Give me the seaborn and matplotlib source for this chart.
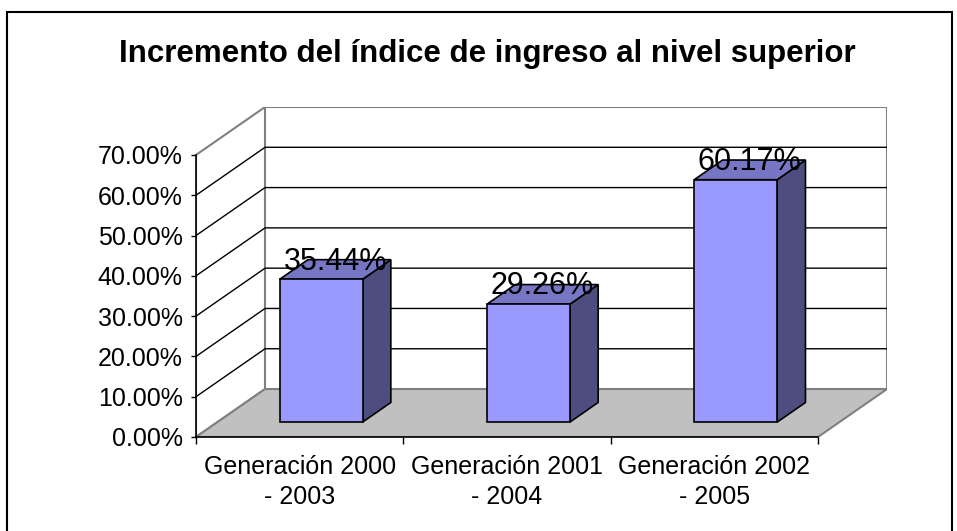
import numpy as np
import pandas as pd
import seaborn as sns
import matplotlib.pyplot as plt
from matplotlib.patches import Polygon, Rectangle
from matplotlib.transforms import Affine2D

# chart data
categories = ['Generación 2000\n- 2003', 'Generación 2001\n- 2004', 'Generación 2002\n- 2005']
values = [35.44, 29.26, 60.17]
bar_labels = ['35.44%', '29.26%', '60.17%']
y_ticks = [0, 10, 20, 30, 40, 50, 60, 70]
title = 'Incremento del índice de ingreso al nivel superior'

sns.set_style('white')
plt.rcParams['font.family'] = ['Liberation Sans', 'DejaVu Sans']
plt.rcParams['text.color'] = 'black'
plt.rcParams['xtick.color'] = 'black'
plt.rcParams['ytick.color'] = 'black'

W, H = 957, 531
fig = plt.figure(figsize=(W / 100, H / 100), dpi=100)
ax = fig.add_axes([196 / W, (H - 437) / H, (887 - 196) / W, (437 - 107) / H])

# depth of the fake 3d box, in data units
dep_x, dep_y = 0.333, 11.9
ymax = y_ticks[-1]

# front faces of the bars from seaborn
df = pd.DataFrame({'gen': categories, 'val': values})
sns.barplot(data=df, x='gen', y='val', width=0.4, color='#9999FF', saturation=1,
            edgecolor='black', linewidth=1.2, ax=ax, zorder=5)
bars = list(ax.patches)

# bars sit in the middle of the floor depth
shift = Affine2D().translate(0.31 * dep_x, 0.31 * dep_y) + ax.transData
bdx, bdy = 0.41 * dep_x, 0.41 * dep_y

# walls and floor
edge = '#808080'
ax.add_patch(Polygon([(-0.5, 0), (-0.5 + dep_x, dep_y), (-0.5 + dep_x, ymax + dep_y), (-0.5, ymax)],
                     closed=True, fc='white', ec=edge, lw=1.5, zorder=1))
ax.add_patch(Rectangle((-0.5 + dep_x, dep_y), 3, ymax, fc='white', ec=edge, lw=1.5, zorder=1))
ax.add_patch(Polygon([(-0.5, 0), (2.5, 0), (2.5 + dep_x, dep_y), (-0.5 + dep_x, dep_y)],
                     closed=True, fc='#C0C0C0', ec=edge, lw=1.5, zorder=1.5))
for v in y_ticks[1:-1]:
    ax.plot([-0.5, -0.5 + dep_x, 2.5 + dep_x], [v, v + dep_y, v + dep_y],
            color='black', lw=1, zorder=2)

# side / top faces and labels
for bar, lab in zip(bars, bar_labels):
    bar.set_transform(shift)
    x0, w, h = bar.get_x(), bar.get_width(), bar.get_height()
    side = [(x0 + w, 0), (x0 + w + bdx, bdy), (x0 + w + bdx, h + bdy), (x0 + w, h)]
    top = [(x0, h), (x0 + w, h), (x0 + w + bdx, h + bdy), (x0 + bdx, h + bdy)]
    ax.add_patch(Polygon(side, closed=True, fc='#4D4D80', ec='black', lw=1.2, transform=shift, zorder=4))
    ax.add_patch(Polygon(top, closed=True, fc='#7676C4', ec='black', lw=1.2, transform=shift, zorder=4))
    ax.text(x0 + w / 2 + bdx / 2, h + bdy / 2, lab, transform=shift, ha='center', va='baseline',
            fontsize=22, color='black', zorder=6)

ax.set_xlim(-0.5, 2.5 + dep_x)
ax.set_ylim(0, ymax + dep_y)
ax.set_xlabel('')
ax.set_ylabel('')

for s in ['top', 'right']:
    ax.spines[s].set_visible(False)
ax.spines['left'].set_bounds(0, ymax)
ax.spines['bottom'].set_bounds(-0.5, 2.5)
for s in ['left', 'bottom']:
    ax.spines[s].set_color('black')
    ax.spines[s].set_linewidth(1.2)

ax.set_yticks(y_ticks)
ax.set_yticklabels(['{0:.2f}%'.format(t) for t in y_ticks])
ax.tick_params(axis='y', left=True, direction='out', length=3.5, width=1, pad=6,
               labelsize=18, colors='black')

ax.set_xticks([0, 1, 2])
ax.set_xticklabels(categories)
ax.set_xticks([-0.5, 0.5, 1.5, 2.5], minor=True)
ax.tick_params(axis='x', which='major', length=0, pad=13, labelsize=18, colors='black')
ax.tick_params(axis='x', which='minor', bottom=True, direction='out', length=5, width=1, colors='black')
for lbl in ax.get_xticklabels():
    lbl.set_linespacing(1.3)

fig.text(487 / W, 1 - 54 / H, title, ha='center', va='center', fontsize=22.5,
         fontweight='bold', color='black')

# chart border
fig.add_artist(Rectangle((7 / W, -0.05), (952 - 7) / W, 1.05 - 12 / H, transform=fig.transFigure,
                         fill=False, ec='black', lw=1.5))

fig.savefig('out.png', dpi=100)
